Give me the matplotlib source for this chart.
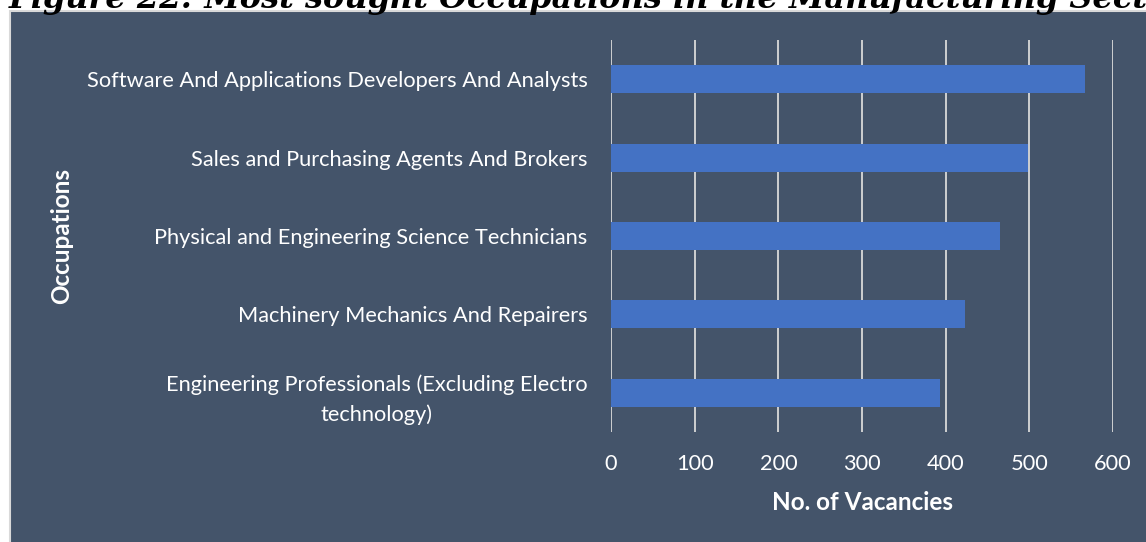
import matplotlib.pyplot as plt
from matplotlib.patches import Rectangle

# chart data, top to bottom as shown
occupations = [
    'Software And Applications Developers And Analysts',
    'Sales and Purchasing Agents And Brokers',
    'Physical and Engineering Science Technicians',
    'Machinery Mechanics And Repairers',
    'Engineering Professionals (Excluding Electro\ntechnology)',
]
vacancies = [567, 499, 465, 423, 393]
x_ticks = [0, 100, 200, 300, 400, 500, 600]

title = 'Figure 22: Most sought Occupations in the Manufacturing Sector'

W, H = 1146, 542
panel_color = '#44546A'
bar_color = '#4472C4'
grid_color = '#D9D9D9'
text_color = '#FFFFFF'
font = 'Lato'

fig = plt.figure(figsize=(W / 100, H / 100), dpi=100)
fig.patch.set_facecolor('white')

# clipped caption above the chart box
fig.text(9 / W, 1 - 8 / H, title, fontsize=23, fontweight='bold', style='italic',
         family='DejaVu Serif', va='baseline', ha='left', color='black')

# dark chart box with light border on left/top
panel = Rectangle((10 / W, -0.05), 1.2, 1 - 11 / H + 0.05, transform=fig.transFigure,
                  facecolor=panel_color, edgecolor=grid_color, linewidth=1.5, zorder=0)
fig.patches.append(panel)

ax = fig.add_axes([611 / W, 1 - 432 / H, (1113 - 611) / W, (432 - 40) / H])
ax.set_zorder(2)
ax.set_facecolor('none')

ypos = list(range(len(occupations)))
ax.barh(ypos, vacancies, height=0.357, color=bar_color, zorder=3)

ax.set_xlim(0, 600)
ax.set_ylim(len(occupations) - 0.5, -0.5)
ax.set_xticks(x_ticks)
ax.set_yticks(ypos)
ax.set_yticklabels(occupations, multialignment='center')
ax.tick_params(axis='both', length=0, colors=text_color, labelsize=15.7)
ax.tick_params(axis='x', pad=16)
ax.tick_params(axis='y', pad=17)
for lbl in ax.get_xticklabels() + ax.get_yticklabels():
    lbl.set_family(font)
for lbl in ax.get_yticklabels():
    lbl.set_linespacing(1.55)

ax.xaxis.grid(True, color=grid_color, linewidth=1.3)
ax.set_axisbelow(True)
for s in ax.spines.values():
    s.set_visible(False)

ax.set_xlabel('No. of Vacancies', fontsize=17.5, fontweight='bold', color=text_color, family=font)
ax.xaxis.set_label_coords(0.5, (432 - 502) / 392)
ax.xaxis.label.set_va('center')
ax.set_ylabel('Occupations', fontsize=17.5, fontweight='bold', color=text_color, family=font)
ax.yaxis.set_label_coords((62 - 611) / 502, 0.5)
ax.yaxis.label.set_va('center')

fig.savefig('out.png', dpi=100, facecolor=fig.get_facecolor())
